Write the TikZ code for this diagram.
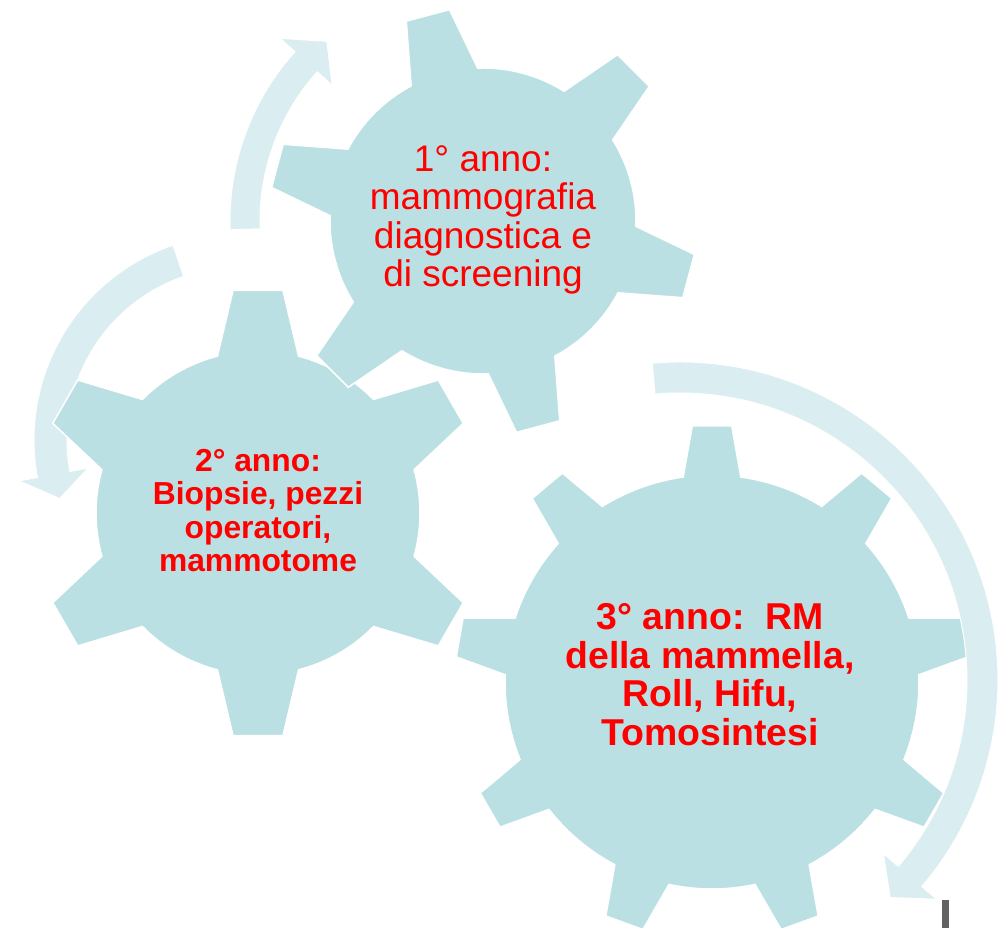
\documentclass[tikz,border=0pt]{standalone}
\usepackage{fontspec}
\setmainfont{Liberation Sans}
\usetikzlibrary{calc}

\definecolor{gearblue}{RGB}{187,224,227}
\definecolor{arrowblue}{RGB}{218,237,240}
\definecolor{cursorgray}{RGB}{98,98,98}

% centre, body radius, tip radius, teeth, first tooth, half base angle, half tip angle
\newcommand{\drawgear}[7]{%
  \pgfmathsetmacro{\gearstep}{360/#4}
  \pgfmathtruncatemacro{\gearlast}{#4-1}
  \begin{scope}[shift={(#1)}]
    \filldraw[gearfill] (#5-#6:#2)
      \foreach \k [evaluate=\k as \a using #5+\k*\gearstep] in {0,...,\gearlast}
        { -- (\a-#7:#3) -- (\a+#7:#3) -- (\a+#6:#2)
          arc[start angle=\a+#6, end angle=\a+\gearstep-#6, radius=#2] }
      -- cycle;
  \end{scope}}

% centre, from, to, inner radius, outer radius, tip angle
\newcommand{\bandarrow}[6]{%
  \pgfmathsetmacro{\arrmid}{(#4+#5)/2}
  \pgfmathsetmacro{\arrhi}{\arrmid+35}
  \pgfmathsetmacro{\arrlo}{\arrmid-35}
  \begin{scope}[shift={(#1)}]
    \filldraw[arrowfill] (#2:#5) arc[start angle=#2, end angle=#3, radius=#5]
      -- (#3:\arrhi) -- (#6:\arrmid) -- (#3:\arrlo) -- (#3:#4)
      arc[start angle=#3, end angle=#2, radius=#4] -- cycle;
  \end{scope}}

\begin{document}
\begin{tikzpicture}[x=1pt, y=1pt,
  gearfill/.style={fill=gearblue, draw=white, line width=1.5pt},
  arrowfill/.style={fill=arrowblue, draw=white, line width=1pt},
  anno/.style={text=red, align=center, inner sep=0pt}]
  \useasboundingbox (0,0) rectangle (1004,928);

  % arrows and gears
  \bandarrow{240,488}{109}{190.5}{173}{206}{198}
  \drawgear{258,415}{162}{224}{6}{30}{14.5}{6.4}
  \drawgear{483,707}{153}{214}{6}{45}{13}{6}
  \bandarrow{483,707}{182}{138}{223}{253}{131}
  \drawgear{712,246}{207}{257}{9}{90}{8}{4.4}
  \bandarrow{680,248}{95}{-40.5}{287}{318}{-46}

  % labels
  \node[anno, font=\fontsize{37}{38.3}\selectfont] (anno1) at (483,708)
    {1° anno:\\mammografia\\diagnostica e\\di screening};
  \node[anno, font=\bfseries\fontsize{31.8}{33.3}\selectfont] (anno2) at (258,417.5)
    {2° anno:\\Biopsie, pezzi\\operatori,\\mammotome};
  \node[anno, font=\bfseries\fontsize{37.4}{38.7}\selectfont] (anno3) at (710,253.5)
    {3° anno:\ \ RM\\della mammella,\\Roll, Hifu,\\Tomosintesi};

  \fill[cursorgray] (942,0) rectangle (949,28);
\end{tikzpicture}
\end{document}
